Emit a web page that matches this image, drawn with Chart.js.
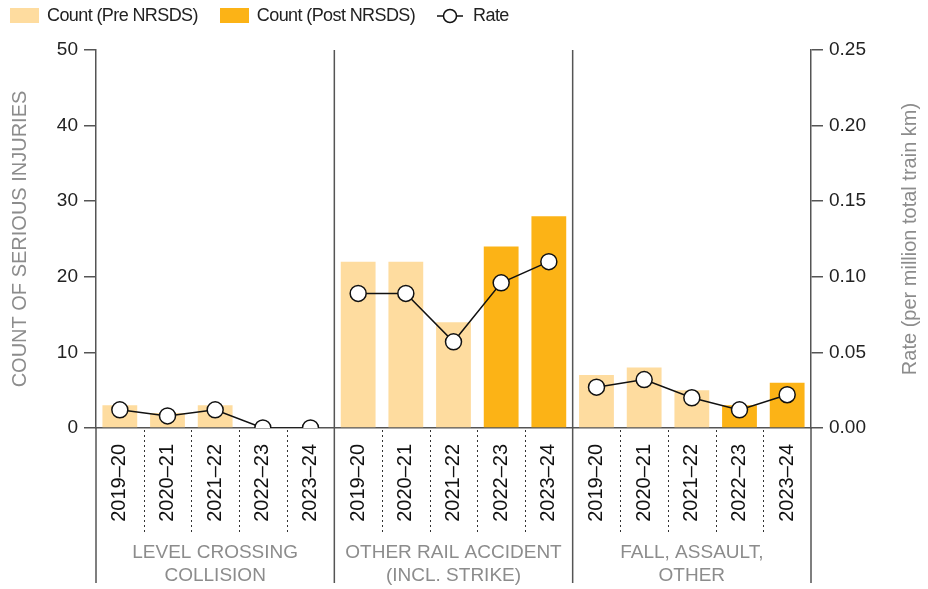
<!DOCTYPE html>
<html>
<head>
<meta charset="utf-8">
<script src="https://cdn.jsdelivr.net/npm/chart.js@4.4.6/dist/chart.umd.min.js"></script>
<style>
  html, body { margin: 0; padding: 0; background: #fff; }
  #wrap { position: relative; width: 928px; height: 589px; }
  #legend {
    position: absolute; top: 5px; left: 10px; display: flex; align-items: center;
    font: 18px 'Liberation Sans', Arial, sans-serif; color: #222; letter-spacing: -0.6px;
  }
  #legend .item { display: flex; align-items: center; margin-right: 22px; }
  #legend .box { width: 29px; height: 15px; margin-right: 8px; }
</style>
</head>
<body>
<div id="wrap">
  <canvas id="chart" width="928" height="589"></canvas>
  <div id="legend">
    <div class="item"><span class="box" style="background:#fedc9f"></span>Count (Pre NRSDS)</div>
    <div class="item"><span class="box" style="background:#fcb316"></span>Count (Post NRSDS)</div>
    <div class="item">
      <svg width="26" height="16" style="margin-right:10px">
        <line x1="0" y1="8" x2="26" y2="8" stroke="#111" stroke-width="1.5"/>
        <circle cx="13" cy="8" r="6.5" fill="#fff" stroke="#111" stroke-width="1.5"/>
      </svg>Rate
    </div>
  </div>
</div>
<script>
const years = ['2019–20', '2020–21', '2021–22', '2022–23', '2023–24']
const groupNames = [
  ['LEVEL CROSSING', 'COLLISION'],
  ['OTHER RAIL ACCIDENT', '(INCL. STRIKE)'],
  ['FALL, ASSAULT,', 'OTHER']
]

const countLevelCrossing = [3, 2, 3, 0, 0]
const countOtherRail = [22, 22, 14, 24, 28]
const countFallAssault = [7, 8, 5, 3, 6]

const rateLevelCrossing = [0.012, 0.008, 0.012, 0, 0]
const rateOtherRail = [0.089, 0.089, 0.057, 0.096, 0.110]
const rateFallAssault = [0.027, 0.032, 0.020, 0.012, 0.022]

// first year index (within a group) counted as post NRSDS
const postStart = 3

const PRE_COLOR = '#fedc9f'
const POST_COLOR = '#fcb316'
const AXIS_COLOR = '#555'
const GREY_TEXT = '#8c8c8c'
const FONT = "'Liberation Sans', Arial, sans-serif"

const counts = [countLevelCrossing, countOtherRail, countFallAssault]
const rates = [rateLevelCrossing, rateOtherRail, rateFallAssault]
const labels = groupNames.flatMap(() => years)

const preData = counts.flatMap((g) => g.map((v, i) => (i < postStart ? v : null)))
const postData = counts.flatMap((g) => g.map((v, i) => (i >= postStart ? v : null)))

const rateDatasets = rates.map((g, gi) => ({
  type: 'line',
  label: 'Rate',
  yAxisID: 'y1',
  data: labels.map((_, i) => (Math.floor(i / years.length) === gi ? g[i % years.length] : null)),
  borderColor: '#111',
  borderWidth: 1.5,
  pointRadius: 8,
  pointBackgroundColor: '#fff',
  pointBorderColor: '#111',
  pointBorderWidth: 1.5,
  spanGaps: false,
  order: 0
}))

const decorations = {
  id: 'decorations',
  afterDraw(chart) {
    const { ctx, chartArea: area, scales } = chart
    const xs = scales.x
    const step = (area.right - area.left) / labels.length
    const bottom = 583
    ctx.save()

    // dotted separators between years
    ctx.strokeStyle = '#333'
    ctx.lineWidth = 1
    ctx.setLineDash([2, 3])
    for (let i = 1; i < labels.length; i++) {
      if (i % years.length === 0) continue
      const x = Math.round(xs.getPixelForValue(i) - step / 2) + 0.5
      ctx.beginPath()
      ctx.moveTo(x, area.bottom + 2)
      ctx.lineTo(x, area.bottom + 105)
      ctx.stroke()
    }
    ctx.setLineDash([])

    // solid group separators and axis extensions
    ctx.strokeStyle = AXIS_COLOR
    ctx.lineWidth = 1.5
    for (let g = 0; g <= groupNames.length; g++) {
      const x = area.left + g * years.length * step
      const inner = g > 0 && g < groupNames.length
      ctx.beginPath()
      ctx.moveTo(x, inner ? area.top : area.bottom)
      ctx.lineTo(x, bottom)
      ctx.stroke()
    }

    // group labels
    ctx.fillStyle = GREY_TEXT
    ctx.font = `19px ${FONT}`
    ctx.textAlign = 'center'
    ctx.textBaseline = 'middle'
    groupNames.forEach((lines, g) => {
      const cx = area.left + (g + 0.5) * years.length * step
      lines.forEach((t, li) => ctx.fillText(t, cx, 553 + li * 23))
    })

    // right axis title (reads bottom to top)
    ctx.font = `20px ${FONT}`
    ctx.translate(910, (area.top + area.bottom) / 2)
    ctx.rotate(-Math.PI / 2)
    ctx.fillText('Rate (per million total train km)', 0, 0)
    ctx.restore()
  }
}

new Chart(document.getElementById('chart'), {
  data: {
    labels,
    datasets: [
      ...rateDatasets,
      {
        type: 'bar',
        label: 'Count (Pre NRSDS)',
        data: preData,
        backgroundColor: PRE_COLOR,
        categoryPercentage: 1,
        barPercentage: 0.73,
        order: 1
      },
      {
        type: 'bar',
        label: 'Count (Post NRSDS)',
        data: postData,
        backgroundColor: POST_COLOR,
        categoryPercentage: 1,
        barPercentage: 0.73,
        order: 1
      }
    ]
  },
  options: {
    responsive: false,
    animation: false,
    layout: { padding: { top: 50, left: 0, right: 0, bottom: 0 } },
    plugins: { legend: { display: false }, tooltip: { enabled: false } },
    scales: {
      x: {
        stacked: true,
        grid: { display: false, drawTicks: false },
        border: { display: true, color: AXIS_COLOR, width: 1.5 },
        ticks: {
          autoSkip: false,
          minRotation: 90,
          maxRotation: 90,
          padding: 16,
          color: '#111',
          font: { family: FONT, size: 20 }
        },
        afterFit: (s) => { s.height = 161 }
      },
      y: {
        stacked: true,
        position: 'left',
        min: 0,
        max: 50,
        ticks: { stepSize: 10, padding: 6, color: '#222', font: { family: FONT, size: 19 } },
        grid: { drawOnChartArea: false, tickLength: 12, color: AXIS_COLOR, lineWidth: 1.5 },
        border: { color: AXIS_COLOR, width: 1.5 },
        title: {
          display: true,
          text: 'COUNT OF SERIOUS INJURIES',
          color: GREY_TEXT,
          font: { family: FONT, size: 20 },
          padding: { top: 8, bottom: 0 }
        },
        afterFit: (s) => { s.width = 96 }
      },
      y1: {
        position: 'right',
        min: 0,
        max: 0.25,
        ticks: {
          stepSize: 0.05,
          padding: 6,
          color: '#222',
          font: { family: FONT, size: 19 },
          callback: (v) => v.toFixed(2)
        },
        grid: { drawOnChartArea: false, tickLength: 12, color: AXIS_COLOR, lineWidth: 1.5 },
        border: { color: AXIS_COLOR, width: 1.5 },
        afterFit: (s) => { s.width = 117 }
      }
    }
  },
  plugins: [decorations]
})
</script>
</body>
</html>
